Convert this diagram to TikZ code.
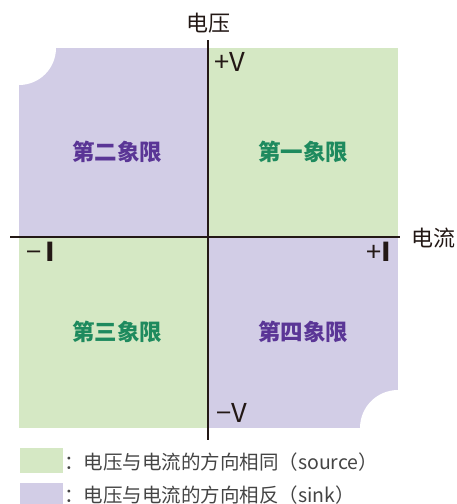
\documentclass[tikz,border=0pt]{standalone}
\usepackage{fontspec}
\setmainfont{Noto Sans CJK SC}
\definecolor{qgreen}{HTML}{D5E8C4}
\definecolor{qpurple}{HTML}{D2CDE6}
\definecolor{tgreen}{HTML}{1E8A5E}
\definecolor{tpurple}{HTML}{5A3596}
\definecolor{axcol}{HTML}{231815}
\definecolor{legcol}{HTML}{444444}
\begin{document}
\begin{tikzpicture}[x=1pt,y=-1pt,
  axislbl/.style={text=axcol,font=\fontsize{22}{24}\selectfont,inner sep=0pt},
  signlbl/.style={text=axcol,font=\fontsize{26}{28}\selectfont\addfontfeatures{FakeStretch=1.05},inner sep=0pt},
  qlbl/.style={font=\fontsize{22.5}{24}\selectfont\bfseries,inner sep=0pt},
  leglbl/.style={text=legcol,font=\fontsize{19.5}{21}\selectfont,inner sep=0pt,anchor=west},
  axisline/.style={draw=axcol,line width=2.4pt}]
\useasboundingbox (0,0) rectangle (456,504);
% quadrants
\fill[qpurple] (19,48) rectangle (208,237);
\fill[qgreen] (208,48) rectangle (398,237);
\fill[qgreen] (19,237) rectangle (208,428);
\fill[qpurple] (208,237) rectangle (398,428);
\fill[white] (19,48) circle[radius=37pt];
\fill[white] (398,428) circle[radius=38pt];
% axes
\coordinate (vtop) at (208,40);
\coordinate (vbot) at (208,440);
\coordinate (hl) at (10,237);
\coordinate (hr) at (400,237);
\draw[axisline] (vtop) -- (vbot);
\draw[axisline] (hl) -- (hr);
% axis labels
\node[axislbl] (volt) at (208,23) {电压};
\node[axislbl] (curr) at (433,238) {电流};
\node[signlbl] (pv) at (230,62) {+V};
\node[signlbl] (mv) at (232,413) {−V};
\node[signlbl] (mi) at (41,252) {−\,\textbf{I}};
\node[signlbl] (pi) at (379,252) {+\textbf{I}};
% quadrant labels
\node[qlbl,text=tpurple] (q2) at (117,152) {第二象限};
\node[qlbl,text=tgreen] (q1) at (303,152) {第一象限};
\node[qlbl,text=tgreen] (q3) at (117,332) {第三象限};
\node[qlbl,text=tpurple] (q4) at (303,332) {第四象限};
% legend
\fill[qgreen] (20,448) rectangle (63,473);
\fill[qpurple] (20,483) rectangle (63,504);
\node[leglbl] (l1) at (64,462) {：电压与电流的方向相同（source）};
\node[leglbl] (l2) at (64,495) {：电压与电流的方向相反（sink）};
\end{tikzpicture}
\end{document}
